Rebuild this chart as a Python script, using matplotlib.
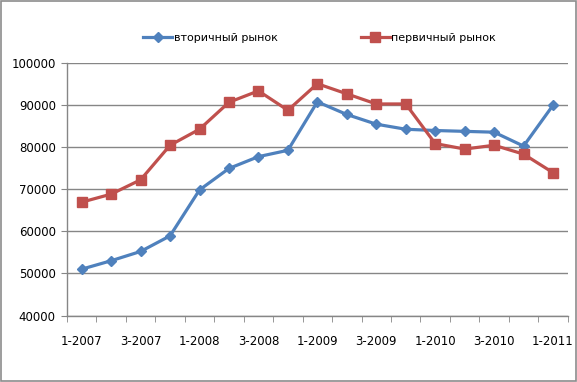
import numpy as np
import matplotlib
matplotlib.use("Agg")
import matplotlib.pyplot as plt
from matplotlib.patches import Rectangle

quarters = ['1-2007', '2-2007', '3-2007', '4-2007',
            '1-2008', '2-2008', '3-2008', '4-2008',
            '1-2009', '2-2009', '3-2009', '4-2009',
            '1-2010', '2-2010', '3-2010', '4-2010',
            '1-2011']
secondary = [51000, 53000, 55200, 58900, 69800, 74900, 77700, 79200,
             90700, 87700, 85400, 84200, 83900, 83700, 83500, 80200, 89900]
primary = [66900, 68800, 72200, 80400, 84200, 90600, 93300, 88700,
           95000, 92600, 90200, 90200, 80800, 79500, 80400, 78300, 73900]

blue = '#4F81BD'
red = '#C0504D'
grid = '#868686'

fig = plt.figure(figsize=(5.77, 3.82), dpi=100)
ax = fig.add_axes([0.116, 0.174, 0.868, 0.662])

x = np.arange(len(quarters))
ax.plot(x, secondary, color=blue, lw=2.3, marker='D', ms=5.5,
        label='вторичный рынок')
ax.plot(x, primary, color=red, lw=2.3, marker='s', ms=7.5,
        label='первичный рынок')

ax.set_ylim(40000, 100000)
ax.set_yticks(range(40000, 100001, 10000))
ax.set_xlim(-0.5, len(quarters) - 0.5)
ax.set_xticks(x[::2])
ax.set_xticklabels(quarters[::2])
ax.set_xticks(np.arange(-0.5, len(quarters), 1), minor=True)

ax.grid(axis='y', color=grid, lw=1)
ax.set_axisbelow(True)
for s in ['top', 'right']:
    ax.spines[s].set_visible(False)
for s in ['left', 'bottom']:
    ax.spines[s].set_color(grid)
    ax.spines[s].set_linewidth(1)

ax.tick_params(axis='x', which='major', length=0, pad=14, labelsize=8.5)
ax.tick_params(axis='x', which='minor', length=4, color=grid, direction='out')
ax.tick_params(axis='y', length=4, color=grid, labelsize=8.5, pad=4)

fig.legend(loc='center', bbox_to_anchor=(0.554, 0.90), ncol=2, frameon=False,
           fontsize=8, handlelength=2.6, handletextpad=0.15, columnspacing=7.5)

fig.patches.append(Rectangle((0.001, 0.002), 0.997, 0.996, transform=fig.transFigure,
                             fill=False, edgecolor='#8c8c8c', lw=1.2))

fig.savefig('out.png', dpi=100)
